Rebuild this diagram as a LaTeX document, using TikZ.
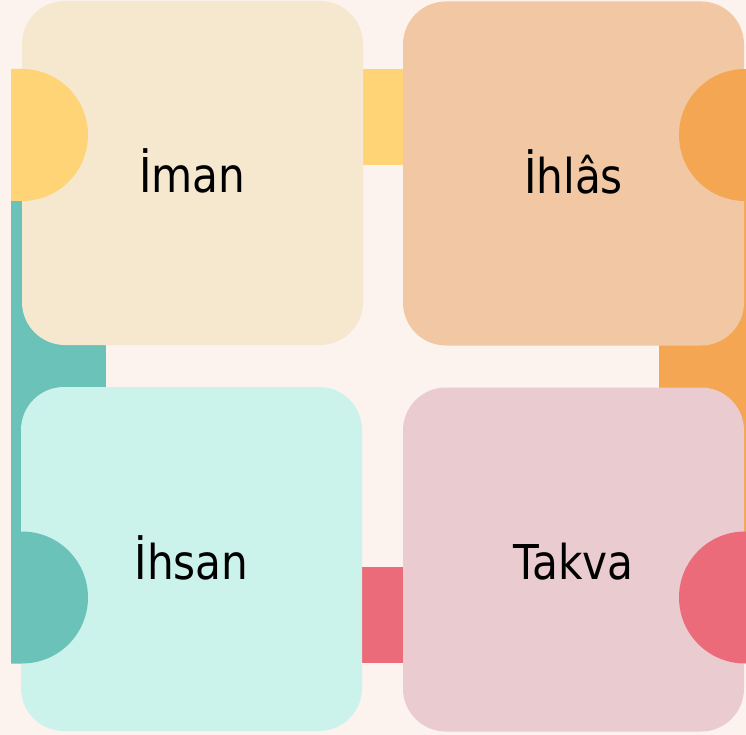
\documentclass[tikz,border=0pt]{standalone}
\usepackage{fontspec}
\setmainfont{DejaVu Sans}[FakeStretch=0.88]
\usepackage{xcolor}
\usepackage{tikz}

\definecolor{bgpink}{HTML}{FCF2EE}
\definecolor{imanfill}{HTML}{F5E8CF}
\definecolor{ihlasfill}{HTML}{F1C8A3}
\definecolor{ihsanfill}{HTML}{CBF3EC}
\definecolor{takvafill}{HTML}{E9CBD0}
\definecolor{yelc}{HTML}{FFD476}
\definecolor{orgc}{HTML}{F5A653}
\definecolor{tealc}{HTML}{6BC2B8}
\definecolor{redc}{HTML}{EC6B7A}

\pgfdeclarelayer{back}
\pgfsetlayers{back,main}

\begin{document}
\begin{tikzpicture}[x=1pt,y=-1pt,
	card/.style={rectangle, rounded corners=43pt, minimum width=341pt, minimum height=344pt,
		inner sep=0pt, text height=40pt, text depth=0pt, font=\fontsize{48}{58}\selectfont}]

			\def \rad {66};

			\useasboundingbox (0,0) rectangle (746,735);

			\node[card, fill=imanfill] (iman) at (192.5,173) {İman};
			\node[card, fill=ihlasfill] (ihlas) at (573.5,173.5) {İhlâs};
			\node[card, fill=ihsanfill] (ihsan) at (191.5,559) {İhsan};
			\node[card, fill=takvafill] (takva) at (573.5,559.5) {Takva};

			\begin{pgfonlayer}{back}
			\fill[bgpink] (0,0) rectangle (746,735);
			\fill[tealc] (11,201) rectangle (106,663);
			\fill[orgc] (659,201) rectangle (746,532);
			\fill[yelc] ([yshift=104pt]iman.east) rectangle ([yshift=8.5pt]ihlas.west);
			\fill[redc] ([yshift=-8pt]ihsan.east) rectangle ([yshift=-103.5pt]takva.west);
			\end{pgfonlayer}

			\foreach \c/\y in {yelc/135, tealc/597.5} {
			    \fill[\c] (11,\y-\rad) -- (22,\y-\rad) arc[start angle=-90, end angle=90, radius=\rad] -- (11,\y+\rad) -- cycle;
			}
			\foreach \c/\y in {orgc/135, redc/597.5} {
			    \fill[\c] (745,\y) circle[radius=\rad];
			}
			\end{tikzpicture}
\end{document}
